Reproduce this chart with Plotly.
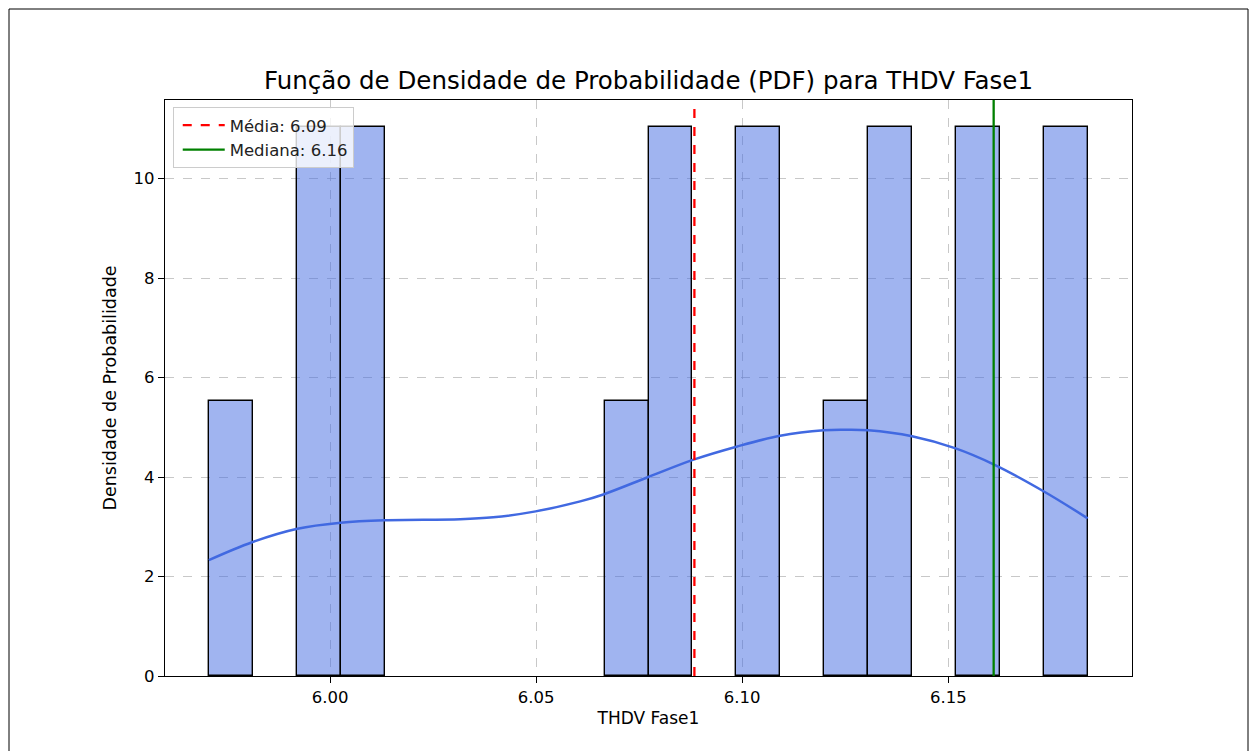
import plotly.graph_objects as go

# Histogram bins
bin_start = 5.97063
bin_width = 0.010664
densities = [5.52, 0, 11.03, 11.03, 0, 0, 0, 0, 0, 5.52,
             11.03, 0, 11.03, 0, 5.52, 11.03, 0, 11.03, 0, 11.03]

# KDE curve
kde_x = [5.9706, 5.9811, 5.9921, 6.0026, 6.0132, 6.0316, 6.0396, 6.0499, 6.0607,
         6.0663, 6.0772, 6.0882, 6.0986, 6.1092, 6.1198, 6.1248, 6.1306, 6.1412,
         6.1516, 6.1611, 6.1732, 6.1838]
kde_y = [2.33, 2.69, 2.96, 3.08, 3.13, 3.15, 3.19, 3.31, 3.51,
         3.65, 4.00, 4.35, 4.61, 4.83, 4.94, 4.95, 4.94, 4.82,
         4.58, 4.25, 3.71, 3.17]

mean_val = 6.0884
median_val = 6.1610
mean_label = "Média: 6.09"
median_label = "Mediana: 6.16"

x_range = [5.95997, 6.19456]
y_range = [0, 11.58]

bar_x = [bin_start + (i + 0.5) * bin_width for i, d in enumerate(densities) if d > 0]
bar_y = [d for d in densities if d > 0]

fig = go.Figure()
fig.add_trace(go.Bar(
    x=bar_x, y=bar_y, width=[bin_width] * len(bar_x),
    marker=dict(color="rgba(65,105,225,0.5)", line=dict(color="black", width=1.4)),
    showlegend=False, hoverinfo="skip"))
fig.add_trace(go.Scatter(
    x=kde_x, y=kde_y, mode="lines", line=dict(color="#4169e1", width=2.5, shape="spline"),
    showlegend=False))
fig.add_trace(go.Scatter(
    x=[mean_val, mean_val], y=y_range, mode="lines", name=mean_label,
    line=dict(color="red", width=2.3, dash="dash")))
fig.add_trace(go.Scatter(
    x=[median_val, median_val], y=y_range, mode="lines", name=median_label,
    line=dict(color="green", width=2.3)))

font = "DejaVu Sans, Arial, sans-serif"
axis_common = dict(
    showline=True, linecolor="black", linewidth=1.2, mirror=True,
    ticks="outside", ticklen=6, tickcolor="black", tickwidth=1.2,
    showgrid=True, gridcolor="rgba(176,176,176,0.7)", griddash="dash", gridwidth=1.2,
    zeroline=False, tickfont=dict(size=16.5, color="black", family=font))

# page body has an 8px offset
W, H = 1249, 743
L, R, T, B = 157, 125, 92, 75
pw, ph = W - L - R, H - T - B

fig.update_layout(
    width=W, height=H,
    margin=dict(l=L, r=R, t=T, b=B),
    paper_bgcolor="white", plot_bgcolor="white",
    font=dict(family=font, color="black"),
    title=dict(text="Função de Densidade de Probabilidade (PDF) para THDV Fase1",
               x=(L + pw / 2) / W, xanchor="center", y=1 - 72 / H, yanchor="middle",
               font=dict(size=24.5, family=font, color="black")),
    xaxis=dict(range=x_range, tickvals=[6.00, 6.05, 6.10, 6.15],
               ticktext=["6.00", "6.05", "6.10", "6.15"],
               title=dict(text="THDV Fase1", font=dict(size=17, family=font), standoff=6),
               **axis_common),
    yaxis=dict(range=y_range, tickvals=[0, 2, 4, 6, 8, 10],
               title=dict(text="Densidade de Probabilidade", font=dict(size=17.5, family=font), standoff=12),
               **axis_common),
    legend=dict(x=0.008, y=0.988, xanchor="left", yanchor="top",
                bgcolor="rgba(255,255,255,0.8)", bordercolor="#cccccc", borderwidth=1,
                font=dict(size=16.5, family=font, color="#222222"), tracegroupgap=0,
                itemwidth=42, indentation=4),
    bargap=0,
    shapes=[dict(type="rect", xref="paper", yref="paper",
                 x0=(1 - L) / pw, x1=(1240 - L) / pw,
                 y0=-(760 - 676) / ph, y1=1 + (T - 1) / ph,
                 line=dict(color="black", width=1), fillcolor="rgba(0,0,0,0)", layer="below")],
)

fig.write_html("out.html")
